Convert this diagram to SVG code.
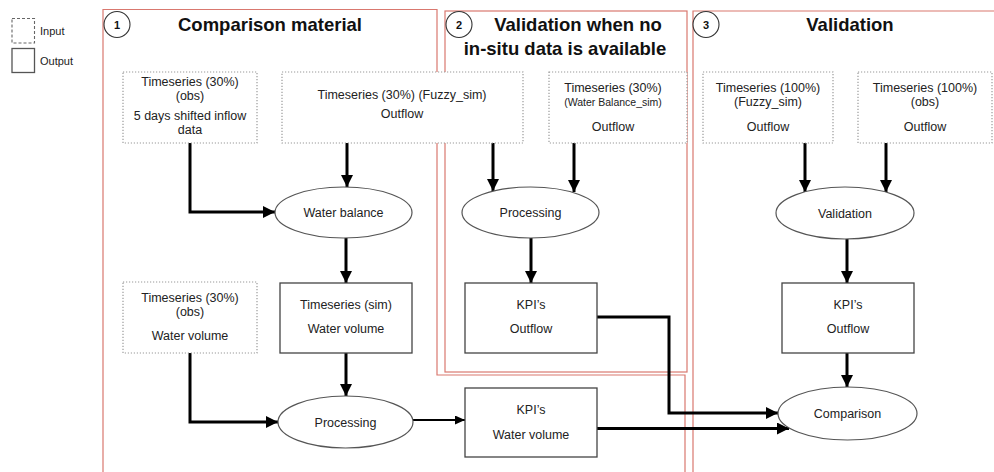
<svg xmlns="http://www.w3.org/2000/svg" width="994" height="472" viewBox="0 0 994 472">
<defs>
<style>
.frame{fill:none;stroke:#d9786f;stroke-width:1.2}
.in{fill:#fff;stroke:#9a9a9a;stroke-width:1.2;stroke-dasharray:1.2 1.8}
.out{fill:#fff;stroke:#444;stroke-width:1.3}
.ell{fill:#fff;stroke:#555;stroke-width:1.2}
.t{font-family:"Liberation Sans",Arial,sans-serif;font-size:12.5px;fill:#222;text-anchor:middle}
.s{font-size:10.5px}
.h{font-family:"Liberation Sans",Arial,sans-serif;font-size:18.5px;font-weight:bold;fill:#111;text-anchor:middle}
.n{font-family:"Liberation Sans",Arial,sans-serif;font-size:11px;font-weight:bold;fill:#111;text-anchor:middle}
.lg{font-family:"Liberation Sans",Arial,sans-serif;font-size:11px;fill:#222}
.c{fill:none;stroke:#000;stroke-width:3}
.c2{fill:none;stroke:#000;stroke-width:2}
.num{fill:#fff;stroke:#333;stroke-width:1.1}
</style>
<marker id="ah" markerUnits="userSpaceOnUse" markerWidth="12" markerHeight="12" refX="12" refY="6" orient="auto">
<path d="M0,0 L12,6 L0,12 z" fill="#000"/>
</marker>
<marker id="ah2" markerUnits="userSpaceOnUse" markerWidth="10" markerHeight="9" refX="10" refY="4.5" orient="auto">
<path d="M0,0 L10,4.5 L0,9 z" fill="#000"/>
</marker>
</defs>
<rect width="994" height="472" fill="#fff"/>

<g id="legend">
<rect x="12" y="18.5" width="22.5" height="24.5" fill="#fff" stroke="#666" stroke-width="1.1" stroke-dasharray="3 2"/>
<text x="40" y="35" class="lg">Input</text>
<rect x="12" y="48.5" width="22.5" height="24" class="out" style="stroke:#555"/>
<text x="40" y="65" class="lg">Output</text>
</g>

<g id="frames">
<path class="frame" d="M103,480 V9.5 H437 V375 H685 V480"/>
<rect class="frame" x="445" y="11" width="242" height="361"/>
<path class="frame" d="M693,480 V11 H1000"/>
</g>

<g id="section1">
<circle class="num" cx="117" cy="24.5" r="13"/>
<text x="117" y="29" class="n">1</text>
<text x="270" y="31" class="h">Comparison material</text>
</g>
<g id="section2">
<circle class="num" cx="459" cy="24.5" r="13"/>
<text x="459" y="29" class="n">2</text>
<text x="578" y="31" class="h">Validation when no</text>
<text x="565" y="55" class="h">in-situ data is available</text>
</g>
<g id="section3">
<circle class="num" cx="706" cy="24.5" r="13"/>
<text x="706" y="29" class="n">3</text>
<text x="850" y="31" class="h">Validation</text>
</g>

<g id="connectors">
<path class="c" d="M190,143 V212 H275" marker-end="url(#ah)"/>
<path class="c" d="M347,143 V187" marker-end="url(#ah)"/>
<path class="c" d="M346,238 V283" marker-end="url(#ah)"/>
<path class="c" d="M190,353 V422 H278" marker-end="url(#ah)"/>
<path class="c" d="M346,353 V396" marker-end="url(#ah)"/>
<path class="c2" d="M413,420 H465" marker-end="url(#ah2)"/>
<path class="c" d="M493,143 V191" marker-end="url(#ah)"/>
<path class="c" d="M574,143 V192" marker-end="url(#ah)"/>
<path class="c" d="M531,238 V283" marker-end="url(#ah)"/>
<path class="c" d="M597,317 H669 V413 H778" marker-end="url(#ah)"/>
<path class="c" d="M597,428.5 H789" marker-end="url(#ah)"/>
<path class="c" d="M805,143 V192" marker-end="url(#ah)"/>
<path class="c" d="M886,143 V192" marker-end="url(#ah)"/>
<path class="c" d="M847,239 V283" marker-end="url(#ah)"/>
<path class="c" d="M847,353 V387" marker-end="url(#ah)"/>
</g>

<g id="n-inflow">
<rect class="in" x="123" y="72" width="134" height="71"/>
<text class="t" x="190" y="86">Timeseries (30%)</text>
<text class="t" x="190" y="100">(obs)</text>
<text class="t" x="190" y="120">5 days shifted inflow</text>
<text class="t" x="190" y="134">data</text>
</g>
<g id="n-fuzzy30">
<rect class="in" x="282" y="72" width="241" height="71"/>
<text class="t" x="402" y="99">Timeseries (30%) (Fuzzy_sim)</text>
<text class="t" x="402" y="118">Outflow</text>
</g>
<g id="n-wb30">
<rect class="in" x="549" y="72" width="138" height="71"/>
<text class="t" x="613" y="92">Timeseries (30%)</text>
<text class="t s" x="613" y="106">(Water Balance_sim)</text>
<text class="t" x="613" y="131">Outflow</text>
</g>
<g id="n-fuzzy100">
<rect class="in" x="703" y="72" width="130" height="71"/>
<text class="t" x="768" y="92">Timeseries (100%)</text>
<text class="t" x="768" y="106">(Fuzzy_sim)</text>
<text class="t" x="768" y="131">Outflow</text>
</g>
<g id="n-obs100">
<rect class="in" x="858" y="72" width="134" height="71"/>
<text class="t" x="925" y="92">Timeseries (100%)</text>
<text class="t" x="925" y="106">(obs)</text>
<text class="t" x="925" y="131">Outflow</text>
</g>

<g id="n-waterbalance">
<ellipse class="ell" cx="343.5" cy="212.5" rx="68.5" ry="25.5"/>
<text class="t" x="343.5" y="217">Water balance</text>
</g>
<g id="n-processing2">
<ellipse class="ell" cx="530.5" cy="212.5" rx="68.5" ry="25.5"/>
<text class="t" x="530.5" y="217">Processing</text>
</g>
<g id="n-validation">
<ellipse class="ell" cx="845" cy="213" rx="69" ry="26"/>
<text class="t" x="845" y="217.5">Validation</text>
</g>

<g id="n-obs30wv">
<rect class="in" x="123" y="282" width="134" height="71"/>
<text class="t" x="190" y="302">Timeseries (30%)</text>
<text class="t" x="190" y="316">(obs)</text>
<text class="t" x="190" y="340">Water volume</text>
</g>
<g id="n-simwv">
<rect class="out" x="280" y="283" width="132" height="70"/>
<text class="t" x="346" y="309">Timeseries (sim)</text>
<text class="t" x="346" y="333">Water volume</text>
</g>
<g id="n-kpi-outflow2">
<rect class="out" x="465" y="283" width="132" height="70"/>
<text class="t" x="531" y="309">KPI’s</text>
<text class="t" x="531" y="333">Outflow</text>
</g>
<g id="n-kpi-outflow3">
<rect class="out" x="782" y="283" width="132" height="70"/>
<text class="t" x="848" y="309">KPI’s</text>
<text class="t" x="848" y="333">Outflow</text>
</g>

<g id="n-processing1">
<ellipse class="ell" cx="345.5" cy="422" rx="67.5" ry="26"/>
<text class="t" x="345.5" y="426.5">Processing</text>
</g>
<g id="n-kpi-wv">
<rect class="out" x="465" y="388" width="132" height="69"/>
<text class="t" x="531" y="414">KPI’s</text>
<text class="t" x="531" y="439">Water volume</text>
</g>
<g id="n-comparison">
<ellipse class="ell" cx="847.5" cy="413.5" rx="69.5" ry="26.5"/>
<text class="t" x="847.5" y="418">Comparison</text>
</g>
</svg>
